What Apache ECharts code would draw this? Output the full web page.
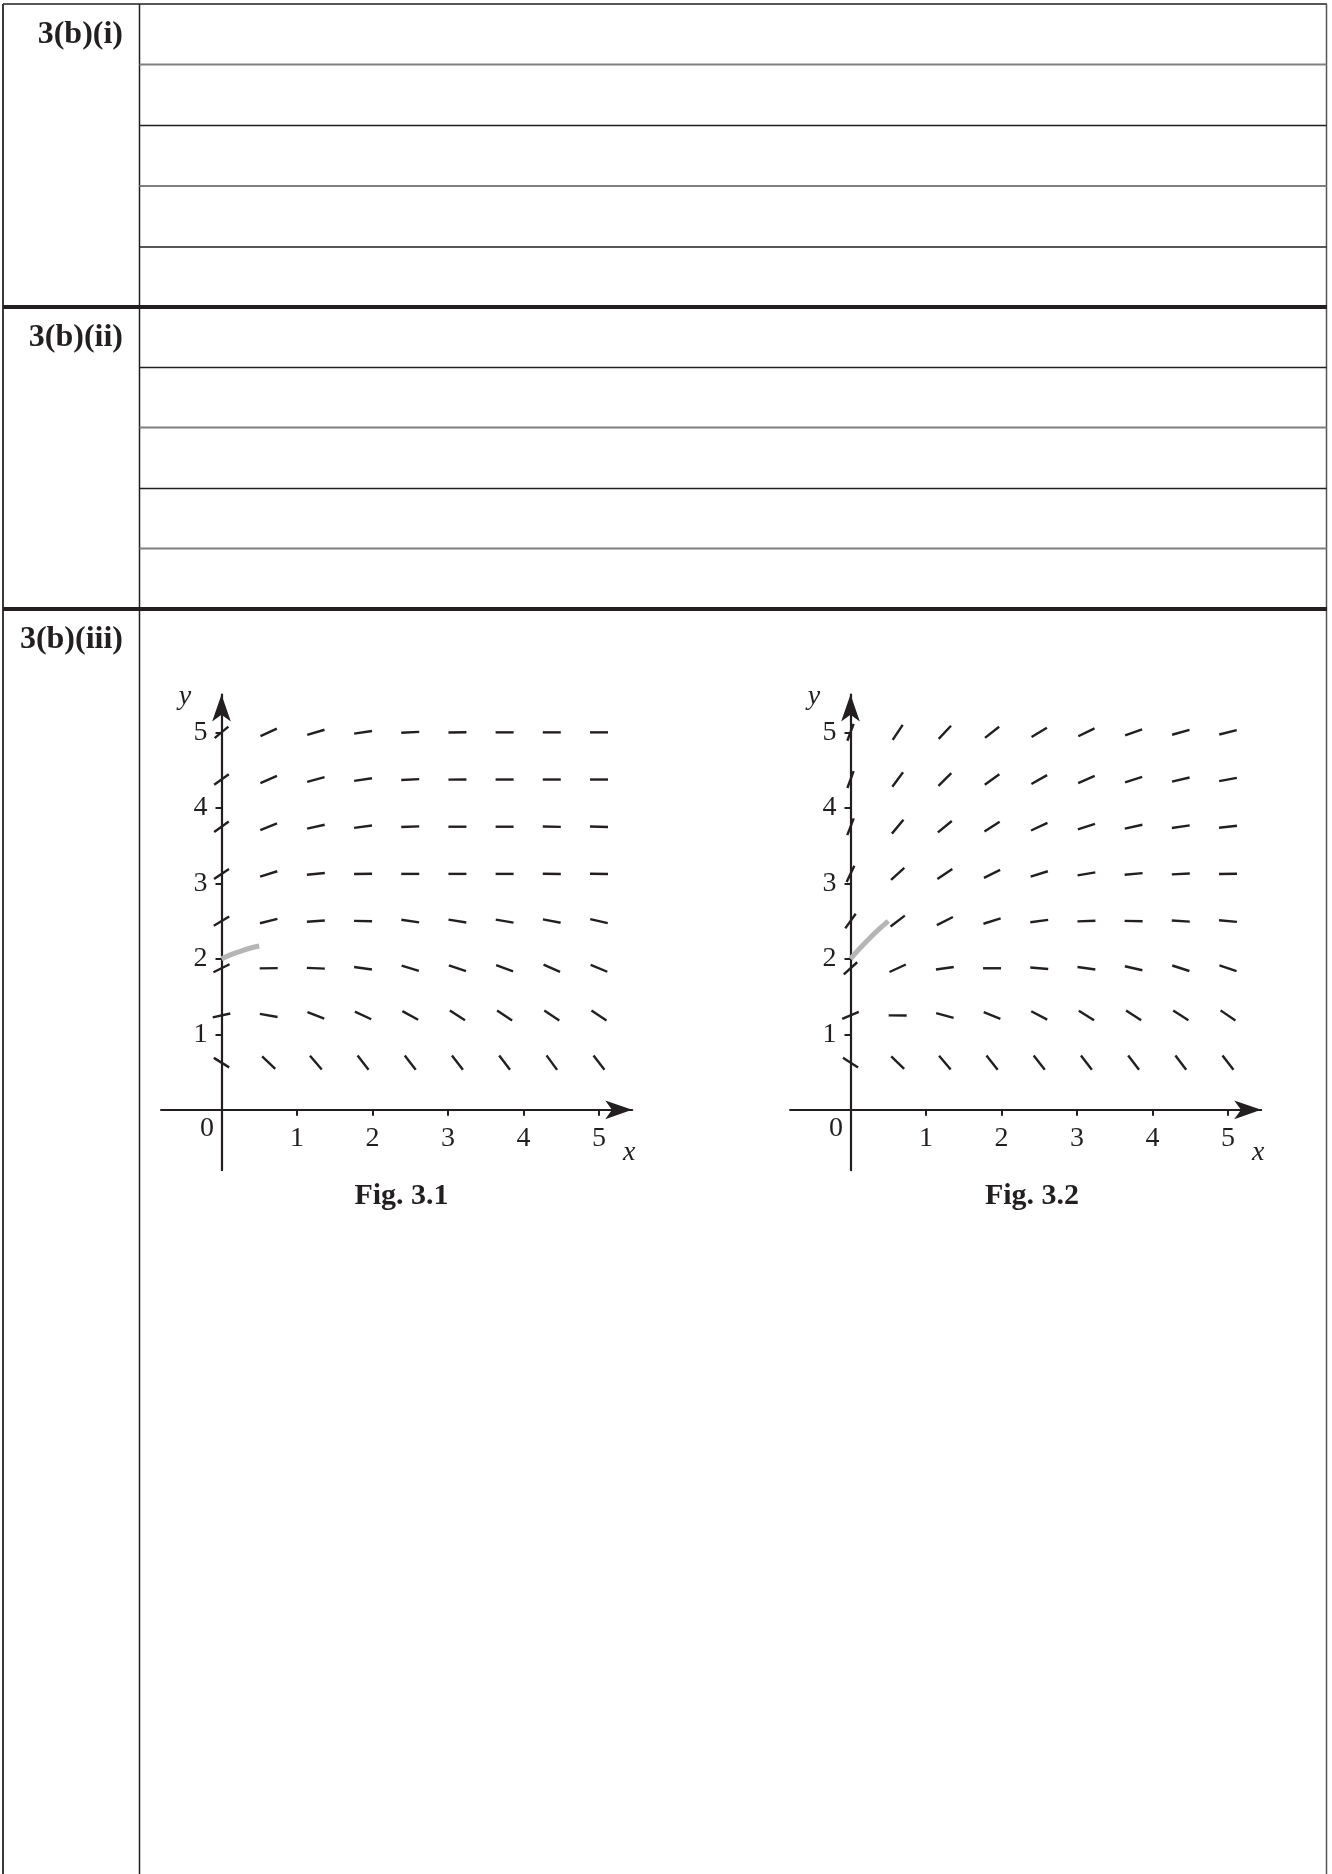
<!DOCTYPE html>
<html>
<head>
<meta charset="utf-8">
<script src="https://cdn.jsdelivr.net/npm/echarts@6/dist/echarts.min.js"></script>
<style>
  html, body { margin: 0; padding: 0; background: #fff; }
  #chart { width: 1332px; height: 1874px; }
</style>
</head>
<body>
<div id="chart"></div>
<script>
// points of the direction field
const gridX = [0, 0.625, 1.25, 1.875, 2.5, 3.125, 3.75, 4.375, 5]
const gridY = [0.625, 1.25, 1.875, 2.5, 3.125, 3.75, 4.375, 5]

// slopes, one row per gridY value (bottom to top)
const slopes31 = [
  [-0.62, -0.94, -1.16, -1.3, -1.3, -1.3, -1.34, -1.38, -1.3],
  [0.22, -0.18, -0.39, -0.47, -0.55, -0.64, -0.66, -0.66, -0.66],
  [0.5, 0.01, -0.04, -0.14, -0.31, -0.33, -0.36, -0.44, -0.42],
  [0.6, 0.25, 0.07, -0.02, -0.15, -0.16, -0.17, -0.19, -0.23],
  [0.67, 0.31, 0.1, 0.02, 0, 0, 0, -0.01, -0.02],
  [0.71, 0.4, 0.22, 0.13, 0.04, 0, 0, -0.02, -0.03],
  [0.72, 0.43, 0.27, 0.15, 0.05, 0.01, 0, 0, 0],
  [0.84, 0.46, 0.3, 0.15, 0.05, 0.01, 0, 0, 0]
]

// slopes
const slopes32 = [
  [-0.65, -0.97, -1.18, -1.25, -1.28, -1.3, -1.32, -1.33, -1.3],
  [0.42, -0.01, -0.27, -0.41, -0.52, -0.63, -0.65, -0.64, -0.68],
  [0.9, 0.46, 0.14, 0, -0.09, -0.14, -0.23, -0.32, -0.33],
  [1.4, 0.77, 0.5, 0.31, 0.13, 0.03, -0.02, -0.06, -0.09],
  [2.1, 0.92, 0.67, 0.49, 0.31, 0.17, 0.09, 0.05, 0.02],
  [2.6, 1.2, 0.82, 0.64, 0.46, 0.32, 0.22, 0.15, 0.11],
  [2.7, 1.35, 0.99, 0.72, 0.56, 0.43, 0.32, 0.23, 0.18],
  [2.7, 1.5, 1.07, 0.79, 0.61, 0.48, 0.35, 0.28, 0.25]
]

// grey solution curves starting at (0, 2)
const curve31X = [0, 0.125, 0.25, 0.375, 0.5]
const curve31Y = [2.0, 2.055, 2.1, 2.14, 2.17]
const curve32X = [0, 0.125, 0.25, 0.375, 0.5]
const curve32Y = [2.0, 2.14, 2.27, 2.39, 2.5]

const tickValues = [1, 2, 3, 4, 5]

const INK = '#231f20'
const SERIF = '"Liberation Serif", "DejaVu Serif", serif'
const SEG_LEN = 18
const AXIS_MIN = -0.8
const UNIT = 75.5 // px per unit on both axes

function fieldData(slopes) {
  let out = []
  for (let j = 0; j < gridY.length; j++) {
    for (let i = 0; i < gridX.length; i++) {
      out.push([gridX[i], gridY[j], slopes[j][i]])
    }
  }
  return out
}

function curveData(xs, ys) {
  return xs.map((x, i) => [x, ys[i]])
}

function renderSegment(params, api) {
  const m = api.value(2)
  const c = api.coord([api.value(0), api.value(1)])
  const unit = api.size([1, 1])
  let dx = unit[0]
  let dy = -m * unit[1]
  const len = Math.sqrt(dx * dx + dy * dy)
  dx = dx / len * SEG_LEN / 2
  dy = dy / len * SEG_LEN / 2
  return {
    type: 'line',
    shape: { x1: c[0] - dx, y1: c[1] - dy, x2: c[0] + dx, y2: c[1] + dy },
    style: { stroke: INK, lineWidth: 2.4 }
  }
}

// axes sit on the grid edge and are shifted in to pass through the origin
function makeAxis(gridIndex, max, labelMargin) {
  return {
    gridIndex: gridIndex,
    type: 'value',
    min: AXIS_MIN,
    max: max,
    offset: AXIS_MIN * UNIT,
    splitLine: { show: false },
    axisLine: {
      onZero: false,
      symbol: ['none', 'arrow'],
      symbolSize: [14, 27],
      lineStyle: { color: INK, width: 2.2 }
    },
    axisTick: {
      customValues: tickValues,
      length: 6,
      lineStyle: { color: INK, width: 2 }
    },
    axisLabel: {
      customValues: tickValues,
      margin: labelMargin,
      fontFamily: SERIF,
      fontSize: 28,
      color: INK
    }
  }
}

const chart = echarts.init(document.getElementById('chart'), null, { renderer: 'canvas' })

chart.setOption({
  animation: false,
  backgroundColor: '#fff',
  grid: [
    { left: 161.1, top: 694.6, width: 471.1, height: 475.6 },
    { left: 790.1, top: 694.6, width: 471.1, height: 475.6 }
  ],
  xAxis: [makeAxis(0, 5.44, 15), makeAxis(1, 5.44, 15)],
  yAxis: [makeAxis(0, 5.5, 14), makeAxis(1, 5.5, 14)],
  series: [
    {
      type: 'custom',
      xAxisIndex: 0,
      yAxisIndex: 0,
      clip: false,
      renderItem: renderSegment,
      data: fieldData(slopes31),
      z: 3
    },
    {
      type: 'custom',
      xAxisIndex: 1,
      yAxisIndex: 1,
      clip: false,
      renderItem: renderSegment,
      data: fieldData(slopes32),
      z: 3
    },
    {
      type: 'line',
      xAxisIndex: 0,
      yAxisIndex: 0,
      smooth: true,
      showSymbol: false,
      lineStyle: { color: '#b5b5b5', width: 5 },
      data: curveData(curve31X, curve31Y),
      z: 4
    },
    {
      type: 'line',
      xAxisIndex: 1,
      yAxisIndex: 1,
      smooth: true,
      showSymbol: false,
      lineStyle: { color: '#b5b5b5', width: 5 },
      data: curveData(curve32X, curve32Y),
      z: 4
    }
  ]
})

// table rules and labels
const DARK = { stroke: INK, lineWidth: 1.5 }
const GREY = { stroke: '#7f7f7f', lineWidth: 2 }
const THICK = { stroke: INK, lineWidth: 4 }

function hline(y, x1, x2, style) {
  return { type: 'line', shape: { x1: x1, y1: y, x2: x2, y2: y }, style: style, silent: true }
}
function vline(x, y1, y2, style) {
  return { type: 'line', shape: { x1: x, y1: y1, x2: x, y2: y2 }, style: style, silent: true }
}
function label(text, x, y, font, align) {
  return {
    type: 'text', x: x, y: y, silent: true,
    style: { text: text, font: font, fill: INK, textAlign: align, textVerticalAlign: 'middle' }
  }
}

let graphic = [
  hline(4, 3, 1327, DARK),
  vline(3, 4, 1874, { stroke: '#3a3a3a', lineWidth: 2 }),
  vline(139.5, 4, 1874, DARK),
  vline(1326.5, 4, 1874, { stroke: '#555', lineWidth: 1.5 }),
  hline(64.5, 139.5, 1326.5, GREY),
  hline(125.5, 139.5, 1326.5, DARK),
  hline(186, 139.5, 1326.5, GREY),
  hline(247, 139.5, 1326.5, DARK),
  hline(307, 3, 1327, THICK),
  hline(367.5, 139.5, 1326.5, DARK),
  hline(427.5, 139.5, 1326.5, GREY),
  hline(488.5, 139.5, 1326.5, DARK),
  hline(548.5, 139.5, 1326.5, GREY),
  hline(609, 3, 1327, THICK),
  label('3(b)(i)', 123, 35, 'bold 32px ' + SERIF, 'right'),
  label('3(b)(ii)', 123, 338, 'bold 32px ' + SERIF, 'right'),
  label('3(b)(iii)', 123, 640, 'bold 32px ' + SERIF, 'right'),
  label('Fig. 3.1', 401.5, 1196, 'bold 30px ' + SERIF, 'center'),
  label('Fig. 3.2', 1032, 1196, 'bold 30px ' + SERIF, 'center')
]

// origin "0" and axis letters placed from each grid's own scale
for (let g = 0; g < 2; g++) {
  const o = chart.convertToPixel({ gridIndex: g }, [0, 0])
  const xEnd = chart.convertToPixel({ gridIndex: g }, [5.4, 0])
  graphic.push(label('0', o[0] - 14.5, o[1] + 19, '28px ' + SERIF, 'center'))
  graphic.push(label('x', xEnd[0], o[1] + 43, 'italic 28px ' + SERIF, 'center'))
  graphic.push(label('y', o[0] - 36.5, 697, 'italic 28px ' + SERIF, 'center'))
}

chart.setOption({ graphic: graphic })
</script>
</body>
</html>
